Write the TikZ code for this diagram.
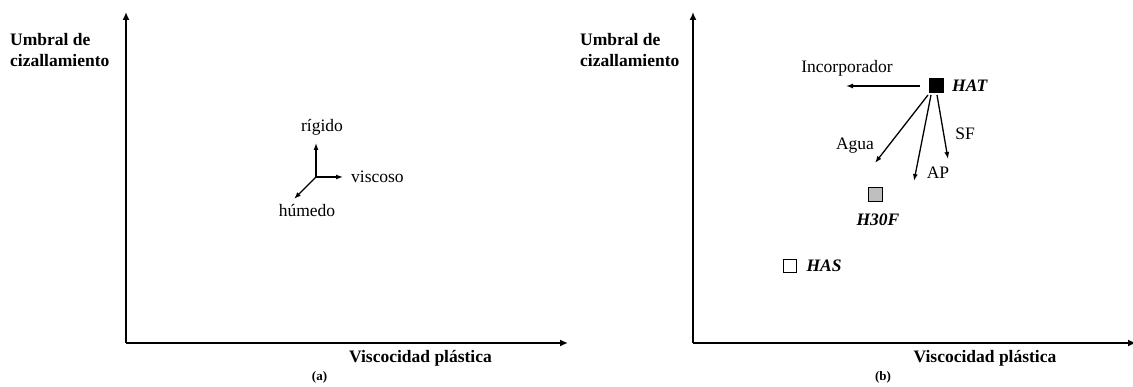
\documentclass[tikz,border=0pt]{standalone}
\usepackage{fontspec}
\setmainfont{Liberation Serif}
\usetikzlibrary{arrows.meta}
\begin{document}
\begin{tikzpicture}[x=1pt,y=-1pt,
  lbl/.style={inner sep=0pt,font=\fontsize{17.5}{20}\selectfont},
  blbl/.style={inner sep=0pt,font=\fontsize{17.5}{21}\selectfont\bfseries},
  ilbl/.style={inner sep=0pt,font=\fontsize{17.5}{20}\selectfont\bfseries\itshape},
  captxt/.style={inner sep=0pt,font=\fontsize{13}{15}\selectfont\bfseries},
  axis/.style={line width=2.4pt},
  axarrow/.style={line width=2.4pt,-{Latex[length=8pt,width=7pt]}},
  arr/.style={line width=1.3pt,-{Latex[length=7pt,width=5pt]}},
  sq/.style={draw=black,line width=0.8pt,minimum size=14pt,inner sep=0pt}]
\useasboundingbox (0,0) rectangle (1133,387);
% ---------- panel (a) ----------
\coordinate (oa) at (126,343);
\coordinate (ya) at (126,12);
\coordinate (xa) at (568,343);
\draw[axarrow] (oa) -- (ya);
\draw[axarrow] (oa) -- (xa);
\node[blbl,align=left,anchor=west] (yla) at (10,50) {Umbral de\\cizallamiento};
\node[blbl] (xla) at (420.5,358) {Viscocidad plástica};
\node[captxt] (capa) at (319.5,377) {(a)};
\coordinate (o) at (316,177);
\coordinate (r) at (316,143);
\coordinate (v) at (343,177);
\coordinate (h) at (294,199);
\draw[arr] (o) -- (r);
\draw[arr] (o) -- (v);
\draw[arr] (o) -- (h);
\node[lbl] (rig) at (322,127) {rígido};
\node[lbl,anchor=west] (vis) at (351,177) {viscoso};
\node[lbl] (hum) at (307,211) {húmedo};
% ---------- panel (b) ----------
\coordinate (ob) at (693,343);
\coordinate (yb) at (693,12);
\coordinate (xb) at (1136,343);
\draw[axarrow] (ob) -- (yb);
\draw[axarrow] (ob) -- (xb);
\node[blbl,align=left,anchor=west] (ylb) at (580,50) {Umbral de\\cizallamiento};
\node[blbl] (xlb) at (985,358) {Viscocidad plástica};
\node[captxt] (capb) at (883,377) {(b)};
\node[sq,fill=black] (hat) at (936.5,85.5) {};
\node[ilbl,anchor=west] (hatl) at (952,86) {HAT};
\node[sq,fill=black!25] (h30) at (875.5,194.5) {};
\node[ilbl] (h30l) at (878,220) {H30F};
\node[sq,fill=white,minimum size=13pt] (has) at (789.5,265.5) {};
\node[ilbl] (hasl) at (824,266) {HAS};
\coordinate (incs) at (920,86);
\coordinate (inc) at (846,86);
\coordinate (aguas) at (928,95);
\coordinate (agua) at (875,163);
\coordinate (aps) at (931,95);
\coordinate (ap) at (914,181);
\coordinate (sfs) at (937,95);
\coordinate (sf) at (948,159);
\draw[arr] (incs) -- (inc);
\draw[arr] (aguas) -- (agua);
\draw[arr] (aps) -- (ap);
\draw[arr] (sfs) -- (sf);
\node[lbl] (incl) at (847,68) {Incorporador};
\node[lbl] (agual) at (855,146) {Agua};
\node[lbl] (sfl) at (965,134) {SF};
\node[lbl] (apl) at (938,173) {AP};
\end{tikzpicture}
\end{document}
